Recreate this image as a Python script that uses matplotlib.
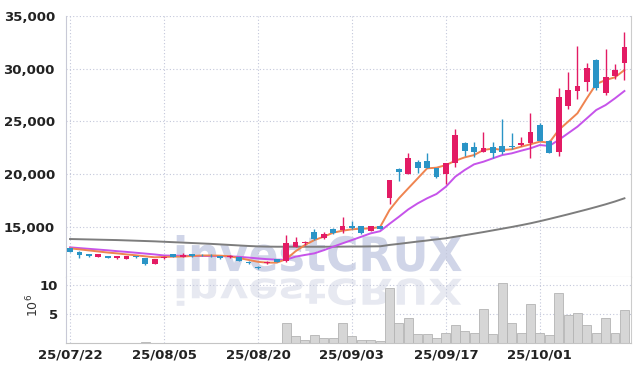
import matplotlib
matplotlib.use('Agg')
import matplotlib.pyplot as plt
from matplotlib.textpath import TextPath
from matplotlib.patches import PathPatch
from matplotlib.font_manager import FontProperties
from matplotlib.transforms import Affine2D, IdentityTransform
from matplotlib.ticker import FuncFormatter

# 일봉 데이터 (60 거래일)
opens = [13000, 12650, 12450, 12160, 12250, 12060, 12000, 12250, 12060, 11470,
         12060, 12440, 12130, 12440, 12340, 12340, 12250, 12130, 12190, 11710,
         11200, 11590, 11950, 11770, 13130, 13450, 14480, 13980, 14770, 14670,
         15140, 15080, 14600, 15050, 17780, 20500, 20020, 21190, 21250, 20560,
         20060, 21090, 22990, 22550, 22140, 22550, 22680, 22680, 22740, 22930,
         24670, 23180, 22140, 26470, 27920, 28770, 30830, 27730, 29340, 30520]
highs = [13050, 12680, 12460, 12450, 12260, 12260, 12260, 12270, 12080, 12010,
         12280, 12460, 12530, 12470, 12450, 12450, 12270, 12300, 12200, 11730,
         11300, 11800, 11980, 14240, 14020, 13700, 14830, 14500, 14870, 15920,
         15560, 15100, 15050, 15080, 19450, 20550, 21980, 21350, 21980, 20600,
         21100, 24260, 23050, 23060, 24030, 23090, 25200, 23880, 23500, 25780,
         24850, 23250, 28200, 29660, 32190, 30570, 30950, 31840, 30420, 33450]
lows = [12600, 12100, 12130, 12150, 12030, 11940, 11990, 12030, 11430, 11460,
        11970, 12130, 12120, 12200, 12250, 12200, 11950, 12100, 11750, 11500,
        11050, 11500, 11680, 11680, 13100, 13300, 13750, 13850, 14380, 14400,
        14850, 14300, 14580, 14780, 17180, 19390, 19980, 20150, 20600, 19650,
        19040, 20700, 21730, 21600, 22100, 21530, 21900, 22350, 22700, 21510,
        23150, 22000, 21730, 26150, 27100, 27920, 28000, 27510, 29060, 28930]
closes = [12650, 12350, 12250, 12440, 12100, 12250, 12250, 12130, 11520, 12000,
          12190, 12190, 12340, 12220, 12300, 12300, 12030, 12220, 11800, 11560,
          11130, 11710, 11700, 13480, 13575, 13600, 13830, 14350, 14420, 15100,
          14950, 14420, 15050, 14800, 19450, 20240, 21570, 20620, 20620, 19710,
          21040, 23720, 22230, 22080, 22460, 21980, 22140, 22580, 22930, 24030,
          23180, 22040, 27350, 27990, 28370, 30070, 28150, 29190, 29880, 32030]

# 이동평균선
ma5 = [12980, 12880, 12780, 12680, 12580, 12500, 12400, 12320, 12220, 12130,
       12160, 12190, 12200, 12250, 12300, 12300, 12280, 12230, 12050, 11880,
       11700, 11620, 11620, 11950, 12700, 13290, 13760, 14080, 14460, 14650,
       14780, 14840, 14870, 15000, 16610, 17720, 18670, 19610, 20560, 20620,
       20870, 21280, 21600, 21820, 22300, 22430, 22300, 22360, 22610, 22840,
       23090, 22990, 24190, 24980, 25780, 27200, 28550, 28930, 29190, 29880]
ma20 = [13070, 13000, 12930, 12860, 12790, 12710, 12640, 12560, 12480, 12400,
        12300, 12280, 12270, 12260, 12250, 12250, 12240, 12220, 12170, 12100,
        12020, 11950, 11900, 11900, 12190, 12350, 12500, 12800, 13130, 13450,
        13760, 14080, 14400, 14600, 15300, 15970, 16670, 17240, 17720, 18130,
        18820, 19770, 20400, 20940, 21190, 21510, 21820, 21980, 22230, 22460,
        22770, 22680, 23250, 23880, 24510, 25300, 26090, 26560, 27200, 27890]
ma60 = [13860, 13840, 13820, 13800, 13780, 13760, 13730, 13700, 13670, 13640,
        13600, 13560, 13520, 13480, 13440, 13400, 13350, 13300, 13250, 13200,
        13160, 13140, 13130, 13130, 13130, 13130, 13130, 13130, 13130, 13140,
        13150, 13150, 13160, 13170, 13300, 13400, 13510, 13620, 13720, 13830,
        13930, 14080, 14220, 14370, 14520, 14680, 14840, 15000, 15170, 15350,
        15550, 15760, 15980, 16200, 16430, 16660, 16900, 17150, 17420, 17720]

# 거래량 (백만 주)
volumes = [0, 0, 0, 0, 0, 0, 0, 0, 0.15, 0,
           0, 0, 0, 0, 0, 0, 0, 0, 0, 0,
           0, 0, 0, 3.4, 1.2, 0.5, 1.4, 0.8, 0.8, 3.4,
           1.2, 0.6, 0.6, 0.4, 9.5, 3.4, 4.4, 1.5, 1.5, 0.8,
           1.8, 3.1, 2.1, 1.8, 5.9, 1.5, 10.3, 3.4, 1.8, 6.8,
           1.8, 1.4, 8.7, 4.8, 5.1, 3.1, 1.8, 4.3, 1.7, 5.7]

date_labels = ['25/07/22', '25/08/05', '25/08/20', '25/09/03', '25/09/17', '25/10/01']
date_pos = [0, 10, 20, 30, 40, 50]
price_ticks = [15000, 20000, 25000, 30000, 35000]
vol_ticks = [5, 10]

UP = '#e31b64'
DOWN = '#2a94c6'
GRID = '#c3c7da'
tick_font = ['Liberation Sans Narrow', 'DejaVu Sans']

W, H = 639, 371
fig = plt.figure(figsize=(W / 100, H / 100), dpi=100)
ax = fig.add_axes([66 / W, 1 - 277 / H, 565 / W, 261 / H])
axv = fig.add_axes([66 / W, 1 - 343 / H, 565 / W, 66 / H], sharex=ax)

# 워터마크 (반사 포함)
tp = TextPath((0, 0), 'investCRUX', size=50,
              prop=FontProperties(family='DejaVu Sans', weight='bold'))
bb = tp.get_extents()
sx = (461.7 - 176.7) / bb.width
sy = (271.7 - 235) / bb.height
t_main = Affine2D().translate(-bb.x0, -bb.y0).scale(sx, sy).translate(176.7, H - 271.7)
t_refl = Affine2D().translate(-bb.x0, -bb.y0).scale(sx, -sy * 0.75).translate(176.7, H - 278.3)
ax.add_patch(PathPatch(tp, facecolor='#d0d5e8', edgecolor='none',
                       transform=t_main + IdentityTransform(), zorder=0.5))
axv.add_patch(PathPatch(tp, facecolor='#e7e9f1', edgecolor='none',
                        transform=t_refl + IdentityTransform(), zorder=0.5))

# 캔들
x = list(range(len(opens)))
for i in x:
    o, h, l, c = opens[i], highs[i], lows[i], closes[i]
    col = UP if c >= o else DOWN
    ax.vlines(i, l, h, color=col, linewidth=1, zorder=3)
    body = max(abs(c - o), 60)
    ax.bar(i, body, bottom=min(o, c), width=0.62, color=col, zorder=4)

ax.plot(x, ma60, color='#7d7d7d', linewidth=1.4, zorder=2.5)
ax.plot(x, ma20, color='#c653ea', linewidth=1.4, zorder=2.6)
ax.plot(x, ma5, color='#ef8450', linewidth=1.4, zorder=2.7)

axv.bar(x, volumes, width=0.95, color='#d6d6d6', edgecolor='#b4b4b4', linewidth=0.6, zorder=2)

ax.set_xlim(-0.43, 59.7)
ax.set_ylim(10260, 35000)
axv.set_ylim(0, 11.4)

for a in (ax, axv):
    a.grid(True, linestyle=(0, (1, 2)), color=GRID, linewidth=0.8)
    a.spines['top'].set_visible(False)
    a.spines['left'].set_color('#c8c9d6')
    a.spines['right'].set_color('#cccccc')
    a.spines['bottom'].set_color('#c4c4c4')
    a.tick_params(length=0, labelcolor='#222222')

ax.set_yticks(price_ticks)
ax.yaxis.set_major_formatter(FuncFormatter(lambda v, p: f'{int(v):,}'))
ax.tick_params(axis='y', pad=8)
ax.tick_params(axis='x', labelbottom=False)
axv.set_yticks(vol_ticks)
axv.tick_params(axis='y', pad=6)
axv.set_xticks(date_pos)
axv.set_xticklabels(date_labels)
axv.tick_params(axis='x', pad=4)

for lab in ax.get_yticklabels() + axv.get_yticklabels() + axv.get_xticklabels():
    lab.set_fontfamily(tick_font)
    lab.set_fontweight('bold')
    lab.set_fontsize(9.5)

fig.text(33 / W, 1 - 305 / H, r'$10^6$', rotation=90, ha='center', va='center',
         fontsize=9, color='#333333')

fig.savefig('out.png', dpi=100, facecolor='white')
